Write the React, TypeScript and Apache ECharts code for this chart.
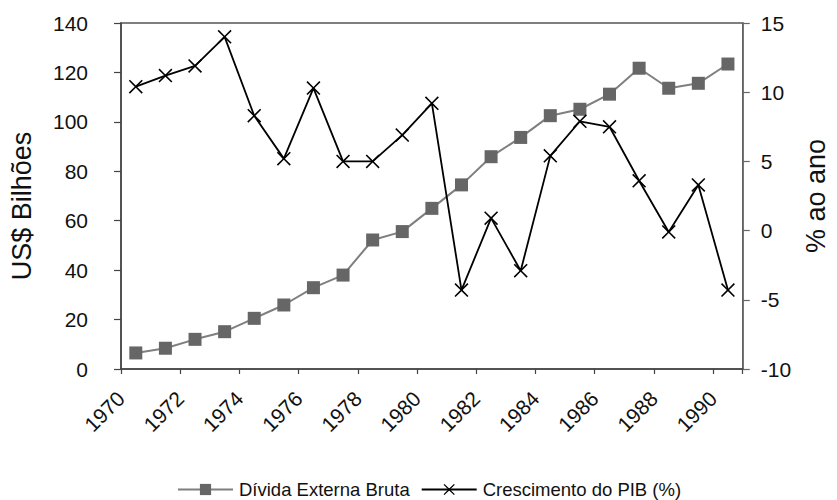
import React, { useEffect, useRef } from "react";
import * as echarts from "echarts";

const years = [
  "1970", "1971", "1972", "1973", "1974", "1975", "1976", "1977", "1978", "1979",
  "1980", "1981", "1982", "1983", "1984", "1985", "1986", "1987", "1988", "1989", "1990",
];
const xTickLabels = ["1970", "1972", "1974", "1976", "1978", "1980", "1982", "1984", "1986", "1988", "1990"];
const divida = [
  6.5, 8.4, 12.0, 15.1, 20.5, 25.9, 32.9, 38.0, 52.2, 55.6,
  65.0, 74.5, 85.9, 93.7, 102.5, 105.1, 111.2, 121.7, 113.6, 115.6, 123.4,
];
const pib = [
  10.4, 11.2, 11.9, 14.0, 8.3, 5.2, 10.3, 5.0, 5.0, 6.9,
  9.2, -4.3, 0.9, -2.9, 5.4, 7.9, 7.5, 3.6, -0.1, 3.3, -4.3,
];

const FONT = "'Liberation Sans', Arial, sans-serif";
const X_PATH =
  "path://M0,8L8,0L50,42L92,0L100,8L58,50L100,92L92,100L50,58L8,100L0,92L42,50Z";

export default function App() {
  const ref = useRef<HTMLDivElement>(null);
  useEffect(() => {
    document.body.style.margin = "0";
    if (!ref.current) return;
    const chart = echarts.init(ref.current, undefined, { renderer: "svg" });
    chart.setOption({
      animation: false,
      backgroundColor: "#ffffff",
      textStyle: { fontFamily: FONT, color: "#111" },
      grid: {
        left: 120,
        right: 77,
        top: 23,
        bottom: 131,
        show: true,
        borderColor: "#555",
        borderWidth: 1.5,
        backgroundColor: "transparent",
      },
      legend: {
        left: 172,
        top: 475,
        itemWidth: 55,
        itemHeight: 14,
        itemGap: 11,
        textStyle: { fontFamily: FONT, fontSize: 18.5, color: "#111", padding: [0, 0, 0, 1] },
        data: ["Dívida Externa Bruta", "Crescimento do PIB (%)"],
      },
      xAxis: [
        {
          type: "category",
          position: "bottom",
          data: years,
          boundaryGap: true,
          axisLine: { lineStyle: { color: "#444", width: 1.5 } },
          axisTick: { show: true, length: 5, lineStyle: { color: "#444", width: 1.2 } },
          axisLabel: { show: false },
          splitLine: { show: false },
        },
        {
          type: "value",
          position: "bottom",
          min: 0,
          max: years.length,
          interval: 1,
          axisLine: { show: false },
          axisTick: { show: false },
          splitLine: { show: false },
          axisLabel: {
            rotate: 45,
            margin: 26,
            fontSize: 21,
            fontFamily: FONT,
            color: "#111",
            formatter: (v: number) => (v % 2 === 0 && xTickLabels[v / 2]) ? xTickLabels[v / 2] : "",
          },
        },
      ],
      yAxis: [
        {
          type: "value",
          position: "left",
          min: 0,
          max: 140,
          interval: 20,
          name: "US$ Bilhões",
          nameLocation: "middle",
          nameRotate: 90,
          nameGap: 86,
          nameTextStyle: { fontSize: 27, fontFamily: FONT, color: "#111", padding: [0, 20, 0, 0] },
          axisLine: { show: true, lineStyle: { color: "#444", width: 1.5 } },
          axisTick: { show: true, length: 7, lineStyle: { color: "#444", width: 1.2 } },
          axisLabel: { fontSize: 21, margin: 33, color: "#111", fontFamily: FONT },
          splitLine: { show: false },
        },
        {
          type: "value",
          position: "right",
          min: -10,
          max: 15,
          interval: 5,
          name: "% ao ano",
          nameLocation: "middle",
          nameRotate: 90,
          nameGap: 53,
          nameTextStyle: { fontSize: 27, fontFamily: FONT, color: "#111" },
          axisLine: { show: true, lineStyle: { color: "#666", width: 1.5 } },
          axisTick: { show: true, length: 7, lineStyle: { color: "#666", width: 1.2 } },
          axisLabel: { fontSize: 21, margin: 18, color: "#111", fontFamily: FONT },
          splitLine: { show: false },
        },
      ],
      series: [
        {
          name: "Dívida Externa Bruta",
          type: "line",
          xAxisIndex: 0,
          yAxisIndex: 0,
          data: divida,
          symbol: "rect",
          symbolSize: 13,
          itemStyle: { color: "#666666" },
          lineStyle: { color: "#7f7f7f", width: 2 },
          z: 2,
        },
        {
          name: "Crescimento do PIB (%)",
          type: "line",
          xAxisIndex: 0,
          yAxisIndex: 1,
          data: pib,
          symbol: X_PATH,
          symbolSize: 14,
          itemStyle: { color: "#000000" },
          lineStyle: { color: "#000000", width: 1.8 },
          z: 3,
        },
      ],
    });
    return () => chart.dispose();
  }, []);
  return (
    <div
      ref={ref}
      style={{ position: "absolute", left: 0, top: 0, width: 837, height: 500 }}
    />
  );
}
